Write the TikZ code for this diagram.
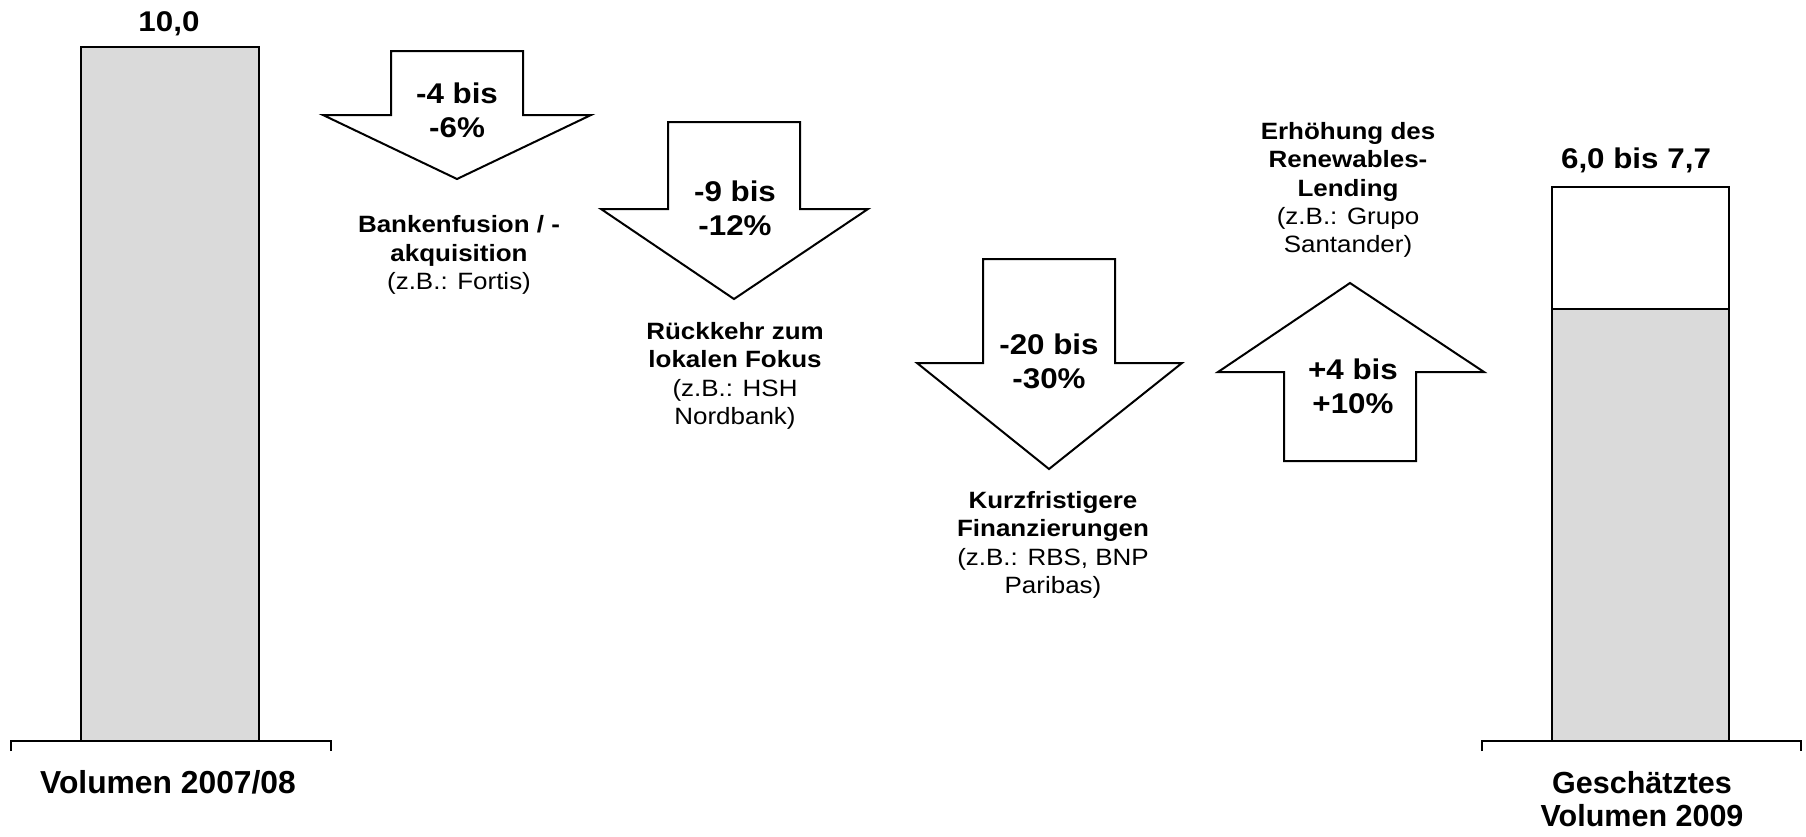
\documentclass[tikz,border=0pt]{standalone}
\usepackage{fontspec}
\setmainfont{Liberation Sans}
\newfontfamily\wfam[FakeStretch=1.1]{Liberation Sans}
\definecolor{barfill}{RGB}{218,218,218}
\begin{document}
\begin{tikzpicture}[x=1pt,y=-1pt,
  outl/.style={draw=black,line width=2pt,line join=miter},
  arrowbox/.style={outl,fill=white},
  bartext/.style={font=\wfam\bfseries\fontsize{28.5}{34}\selectfont,inner sep=0pt},
  arrowtext/.style={font=\wfam\bfseries\fontsize{28.5}{34}\selectfont,align=center,inner sep=0pt},
  lbl/.style={font=\wfam\fontsize{23.6}{28.4}\selectfont,align=center,inner sep=0pt},
  axislbl/.style={font=\bfseries\fontsize{30.5}{33}\selectfont,align=center,inner sep=0pt}]
\useasboundingbox (0,0) rectangle (1806,836);
% left bar
\draw[outl,fill=barfill] (81,47) rectangle (259,741);
\draw[line width=2.5pt] (11,751) -- (11,741) -- (331,741) -- (331,751);
\node[bartext] (v1) at (169,24) {10,0};
\node[axislbl,font=\bfseries\fontsize{31.8}{33}\selectfont] (x1) at (168,782) {Volumen 2007/08};
% arrow 1
\draw[arrowbox] (391,51) -- (523,51) -- (523,115) -- (591,115) -- (457,179) -- (323,115) -- (391,115) -- cycle;
\node[arrowtext] (a1) at (457,110) {-4 bis\\-6\%};
\node[lbl] (l1) at (459,255) {\textbf{Bankenfusion / -}\\\textbf{akquisition}\\(z.B.: Fortis)};
% arrow 2
\draw[arrowbox] (668,122) -- (800,122) -- (800,209) -- (868,209) -- (734,299) -- (601,209) -- (668,209) -- cycle;
\node[arrowtext] (a2) at (735,208) {-9 bis\\-12\%};
\node[lbl] (l2) at (735,376) {\textbf{Rückkehr zum}\\\textbf{lokalen Fokus}\\(z.B.: HSH\\Nordbank)};
% arrow 3
\draw[arrowbox] (983,259) -- (1115,259) -- (1115,363) -- (1182,363) -- (1049,469) -- (917,363) -- (983,363) -- cycle;
\node[arrowtext] (a3) at (1049,361) {-20 bis\\-30\%};
\node[lbl] (l3) at (1053,545) {\textbf{Kurzfristigere}\\\textbf{Finanzierungen}\\(z.B.: RBS, BNP\\Paribas)};
% arrow 4 (up)
\draw[arrowbox] (1350,283) -- (1484,372) -- (1416,372) -- (1416,461) -- (1284,461) -- (1284,372) -- (1218,372) -- cycle;
\node[arrowtext] (a4) at (1353,386) {+4 bis\\+10\%};
\node[lbl] (l4) at (1348,190) {\textbf{Erhöhung des}\\\textbf{Renewables-}\\\textbf{Lending}\\(z.B.: Grupo\\Santander)};
% right bar
\draw[outl,fill=barfill] (1552,309) rectangle (1729,741);
\draw[outl,fill=white] (1552,187) rectangle (1729,309);
\draw[line width=2.5pt] (1482,751) -- (1482,741) -- (1801,741) -- (1801,751);
\node[bartext] (v2) at (1636,160) {6,0 bis 7,7};
\node[axislbl] (x2) at (1642,799) {Geschätztes\\Volumen 2009};
\end{tikzpicture}
\end{document}
